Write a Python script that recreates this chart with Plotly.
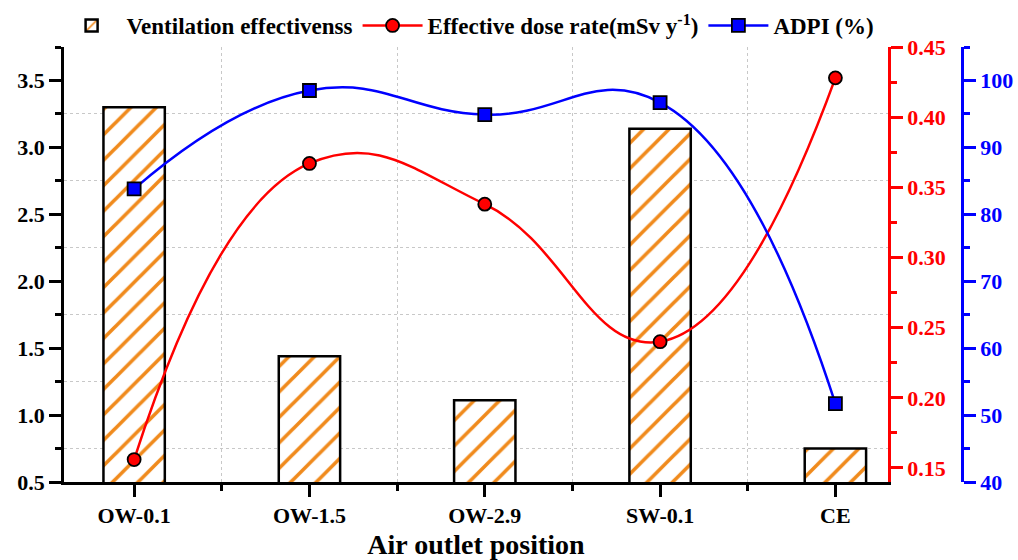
import plotly.graph_objects as go

categories = ["OW-0.1", "OW-1.5", "OW-2.9", "SW-0.1", "CE"]
ventilation_eff = [3.30, 1.44, 1.11, 3.14, 0.75]
dose_rate = [0.156, 0.367, 0.338, 0.240, 0.428]
adpi = [83.8, 98.5, 94.9, 96.7, 51.7]

xpos = list(range(len(categories)))

FONT = "Liberation Serif"
RED = "#FF0000"
BLUE = "#0000FF"
ORANGE = "#F08A1C"

fig = go.Figure()

fig.add_trace(go.Bar(
    x=xpos, y=ventilation_eff, name="Ventilation effectivenss",
    width=0.35,
    marker=dict(color="white",
                line=dict(color="black", width=2.5),
                pattern=dict(shape="/", fgcolor=ORANGE, bgcolor="white", fgopacity=1,
                             size=18, solidity=0.2, fillmode="replace")),
    yaxis="y", xaxis="x",
))

fig.add_trace(go.Scatter(
    x=xpos, y=dose_rate, name="Effective dose rate(mSv y<sup>-1</sup>)",
    mode="lines+markers",
    line=dict(color=RED, width=2.5, shape="spline", smoothing=1.3),
    marker=dict(symbol="circle", size=13, color=RED,
                line=dict(color="black", width=1.8)),
    yaxis="y2", xaxis="x",
))

fig.add_trace(go.Scatter(
    x=xpos, y=adpi, name="ADPI (%)",
    mode="lines+markers",
    line=dict(color=BLUE, width=2.5, shape="spline", smoothing=1.3),
    marker=dict(symbol="square", size=13, color=BLUE,
                line=dict(color="black", width=1.8)),
    yaxis="y3", xaxis="x",
))

tickfont = dict(family=FONT, size=22, color="black", weight="bold")
XR = [-0.4, 4.3]
DOM = [0, 824 / 898]

fig.update_layout(
    width=1018, height=560,
    margin=dict(l=64, r=56, t=47, b=78, autoexpand=False),
    paper_bgcolor="white", plot_bgcolor="white",
    showlegend=True,
    legend=dict(orientation="h", x=0.45, xanchor="center", y=1.0, yanchor="bottom",
                font=dict(family=FONT, size=23, color="black", weight="bold"),
                bgcolor="rgba(0,0,0,0)", itemwidth=60, tracegroupgap=0),
    xaxis=dict(
        domain=DOM, range=XR, tickmode="array", tickvals=xpos, ticktext=categories,
        ticks="outside", ticklen=12, tickwidth=2.5, tickcolor="black",
        showline=True, linecolor="black", linewidth=2.5, showgrid=False, zeroline=False,
        tickfont=tickfont, automargin=False,
        minor=dict(tickmode="linear", tick0=0.5, dtick=1, ticks="outside", ticklen=6,
                   tickwidth=2.5, tickcolor="black", showgrid=True,
                   gridcolor="#c8c8c8", griddash="dot", gridwidth=1),
        title=dict(text="Air outlet position",
                   font=dict(family=FONT, size=28, color="black", weight="bold")),
    ),
    xaxis2=dict(
        domain=DOM, range=XR, overlaying="x", side="top", anchor="y",
        tickmode="array", tickvals=xpos, ticks="inside", ticklen=12, tickwidth=2.5,
        tickcolor="black", showline=True, linecolor="black", linewidth=2.5,
        showticklabels=False, showgrid=False, zeroline=False, automargin=False,
        minor=dict(tickmode="linear", tick0=0.5, dtick=1, ticks="inside", ticklen=6,
                   tickwidth=2.5, tickcolor="black", showgrid=False),
    ),
    yaxis=dict(
        range=[0.5, 3.75], tick0=0.5, dtick=0.5, tickformat=".1f",
        ticks="outside", ticklen=12, tickwidth=2.5, tickcolor="black",
        showline=True, linecolor="black", linewidth=2.5, showgrid=False, zeroline=False,
        tickfont=tickfont, anchor="x", automargin=False,
        minor=dict(tick0=0.25, dtick=0.25, ticks="outside", ticklen=6, tickwidth=2.5,
                   tickcolor="black", showgrid=True, gridcolor="#c8c8c8",
                   griddash="dot", gridwidth=1),
    ),
    yaxis2=dict(
        range=[0.14, 0.45], tick0=0.15, dtick=0.05, tickformat=".2f",
        overlaying="y", side="right", anchor="x", automargin=False,
        ticks="outside", ticklen=12, tickwidth=2.5, tickcolor=RED,
        showline=True, linecolor=RED, linewidth=2.5, showgrid=False, zeroline=False,
        tickfont=dict(family=FONT, size=22, color=RED, weight="bold"),
        minor=dict(tick0=0.15, dtick=0.025, ticks="outside", ticklen=6, tickwidth=2.5,
                   tickcolor=RED, showgrid=False),
    ),
    yaxis3=dict(
        range=[40, 105], tick0=40, dtick=10,
        overlaying="y", side="right", anchor="free", position=1.0, automargin=False,
        ticks="outside", ticklen=12, tickwidth=2.5, tickcolor=BLUE,
        showline=True, linecolor=BLUE, linewidth=2.5, showgrid=False, zeroline=False,
        tickfont=dict(family=FONT, size=22, color=BLUE, weight="bold"),
        minor=dict(tick0=40, dtick=5, ticks="outside", ticklen=6, tickwidth=2.5,
                   tickcolor=BLUE, showgrid=False),
    ),
)

fig.write_html("out.html")
